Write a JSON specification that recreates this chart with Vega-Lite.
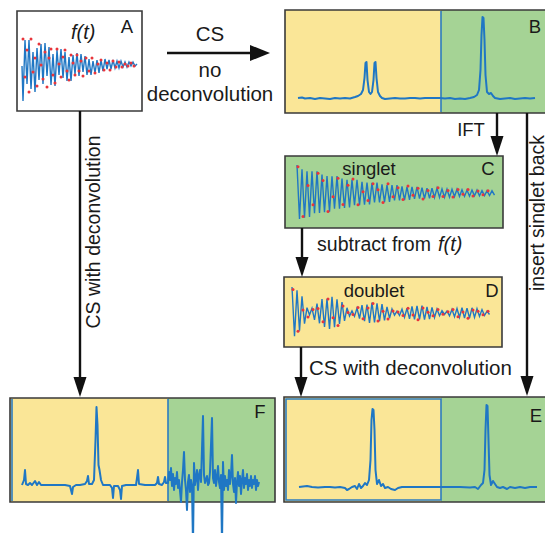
{
"$schema": "https://vega.github.io/schema/vega-lite/v6.json",
"width": 545, "height": 533, "padding": 0, "autosize": {"type": "none"},
"background": "white",
"config": {"view": {"stroke": null}, "text": {"font": "Liberation Sans", "color": "#1a1a1a"}},
"datasets": {
"boxes": [
{"panel":"A","tone":"white","x":17,"x2":142,"y":11,"y2":111},
{"panel":"B","tone":"yellow","x":285,"x2":441,"y":10,"y2":113},
{"panel":"B","tone":"green","x":441,"x2":560,"y":10,"y2":113},
{"panel":"C","tone":"green","x":285,"x2":503,"y":156,"y2":228},
{"panel":"D","tone":"yellow","x":284,"x2":502,"y":277,"y2":347},
{"panel":"E","tone":"yellow","x":284,"x2":441,"y":397,"y2":502},
{"panel":"E","tone":"green","x":441,"x2":560,"y":397,"y2":502},
{"panel":"F","tone":"yellow","x":10,"x2":168,"y":398,"y2":502},
{"panel":"F","tone":"green","x":168,"x2":275,"y":398,"y2":502}
],
"frames": [
{"panel":"A","edge":"dark","x":17,"x2":142,"y":11,"y2":111},
{"panel":"B","edge":"dark","x":285,"x2":560,"y":10,"y2":113},
{"panel":"C","edge":"dark","x":285,"x2":503,"y":156,"y2":228},
{"panel":"D","edge":"dark","x":284,"x2":502,"y":277,"y2":347},
{"panel":"E","edge":"dark","x":284,"x2":560,"y":397,"y2":502},
{"panel":"F","edge":"dark","x":10,"x2":275,"y":398,"y2":502},
{"panel":"E","edge":"blue","x":286,"x2":441,"y":399,"y2":500},
{"panel":"B","edge":"blue","x":441,"x2":441,"y":11,"y2":112},
{"panel":"F","edge":"blue","x":168,"x2":168,"y":399,"y2":501},
{"panel":"F","edge":"blue","x":12,"x2":12,"y":399,"y2":501}
],
"fid": [
{"s":"A","x":22,"y":66},{"s":"A","x":23,"y":101},{"s":"A","x":25,"y":40},{"s":"A","x":27,"y":84},{"s":"A","x":29,"y":40},{"s":"A","x":31,"y":89},{"s":"A","x":33,"y":52},{"s":"A","x":35,"y":92},{"s":"A","x":37,"y":48},{"s":"A","x":39,"y":80},{"s":"A","x":41,"y":44},{"s":"A","x":43,"y":84},{"s":"A","x":45,"y":43},{"s":"A","x":47,"y":76},{"s":"A","x":49,"y":47},{"s":"A","x":51,"y":85},{"s":"A","x":53,"y":54},{"s":"A","x":55,"y":86},{"s":"A","x":57,"y":50},{"s":"A","x":59,"y":75},{"s":"A","x":61,"y":49},{"s":"A","x":63,"y":78},{"s":"A","x":65,"y":52},{"s":"A","x":67,"y":81},{"s":"A","x":69,"y":57},{"s":"A","x":71,"y":81},{"s":"A","x":73,"y":55},{"s":"A","x":75,"y":74},{"s":"A","x":77,"y":53},{"s":"A","x":79,"y":76},{"s":"A","x":81,"y":54},{"s":"A","x":83,"y":72},{"s":"A","x":85,"y":56},{"s":"A","x":87,"y":75},{"s":"A","x":89,"y":59},{"s":"A","x":91,"y":75},{"s":"A","x":93,"y":61},{"s":"A","x":95,"y":73},{"s":"A","x":97,"y":60},{"s":"A","x":99,"y":73},{"s":"A","x":101,"y":60},{"s":"A","x":103,"y":71},{"s":"A","x":105,"y":59},{"s":"A","x":107,"y":69},{"s":"A","x":109,"y":60},{"s":"A","x":111,"y":69},{"s":"A","x":113,"y":60},{"s":"A","x":115,"y":68},{"s":"A","x":117,"y":61},{"s":"A","x":119,"y":68},{"s":"A","x":121,"y":61},{"s":"A","x":123,"y":67},{"s":"A","x":125,"y":62},{"s":"A","x":127,"y":67},{"s":"A","x":129,"y":62},{"s":"A","x":131,"y":66},{"s":"A","x":133,"y":62},{"s":"A","x":135,"y":66},{"s":"A","x":137,"y":64},
{"s":"C","x":297,"y":165},{"s":"C","x":299.5,"y":219},{"s":"C","x":302,"y":169.3},{"s":"C","x":304.5,"y":217.7},{"s":"C","x":307,"y":171.3},{"s":"C","x":309.5,"y":216.9},{"s":"C","x":312,"y":171.4},{"s":"C","x":314.5,"y":213.3},{"s":"C","x":317,"y":171.2},{"s":"C","x":319.5,"y":213},{"s":"C","x":322,"y":174.6},{"s":"C","x":324.5,"y":212.3},{"s":"C","x":327,"y":176.1},{"s":"C","x":329.5,"y":211.7},{"s":"C","x":332,"y":176.2},{"s":"C","x":334.5,"y":208.8},{"s":"C","x":337,"y":176},{"s":"C","x":339.5,"y":208.7},{"s":"C","x":342,"y":178.6},{"s":"C","x":344.5,"y":208},{"s":"C","x":347,"y":179.8},{"s":"C","x":349.5,"y":207.5},{"s":"C","x":352,"y":179.9},{"s":"C","x":354.5,"y":205.3},{"s":"C","x":357,"y":179.8},{"s":"C","x":359.5,"y":205.2},{"s":"C","x":362,"y":181.8},{"s":"C","x":364.5,"y":204.7},{"s":"C","x":367,"y":182.7},{"s":"C","x":369.5,"y":204.3},{"s":"C","x":372,"y":182.8},{"s":"C","x":374.5,"y":202.5},{"s":"C","x":377,"y":182.7},{"s":"C","x":379.5,"y":202.5},{"s":"C","x":382,"y":184.3},{"s":"C","x":384.5,"y":202.1},{"s":"C","x":387,"y":185},{"s":"C","x":389.5,"y":201.8},{"s":"C","x":392,"y":185.1},{"s":"C","x":394.5,"y":200.5},{"s":"C","x":397,"y":185},{"s":"C","x":399.5,"y":200.4},{"s":"C","x":402,"y":186.3},{"s":"C","x":404.5,"y":200.1},{"s":"C","x":407,"y":186.8},{"s":"C","x":409.5,"y":199.8},{"s":"C","x":412,"y":186.9},{"s":"C","x":414.5,"y":198.8},{"s":"C","x":417,"y":186.8},{"s":"C","x":419.5,"y":198.7},{"s":"C","x":422,"y":187.7},{"s":"C","x":424.5,"y":198.5},{"s":"C","x":427,"y":188.2},{"s":"C","x":429.5,"y":198.3},{"s":"C","x":432,"y":188.2},{"s":"C","x":434.5,"y":197.5},{"s":"C","x":437,"y":188.1},{"s":"C","x":439.5,"y":197.5},{"s":"C","x":442,"y":188.9},{"s":"C","x":444.5,"y":197.3},{"s":"C","x":447,"y":189.2},{"s":"C","x":449.5,"y":197.2},{"s":"C","x":452,"y":189.3},{"s":"C","x":454.5,"y":196.5},{"s":"C","x":457,"y":189.2},{"s":"C","x":459.5,"y":196.5},{"s":"C","x":462,"y":189.8},{"s":"C","x":464.5,"y":196.4},{"s":"C","x":467,"y":190.1},{"s":"C","x":469.5,"y":196.2},{"s":"C","x":472,"y":190.1},{"s":"C","x":474.5,"y":195.7},{"s":"C","x":477,"y":190.1},{"s":"C","x":479.5,"y":195.8},{"s":"C","x":482,"y":190.5},{"s":"C","x":484.5,"y":195.6},{"s":"C","x":487,"y":190.7},{"s":"C","x":489.5,"y":195.5},{"s":"C","x":492,"y":190.8},{"s":"C","x":494.5,"y":195.2},
{"s":"D","x":292,"y":287},{"s":"D","x":294.5,"y":336.2},{"s":"D","x":297,"y":290.3},{"s":"D","x":299.5,"y":330.6},{"s":"D","x":302,"y":296.4},{"s":"D","x":304.5,"y":323.7},{"s":"D","x":307,"y":307.6},{"s":"D","x":309.5,"y":315},{"s":"D","x":312,"y":308.2},{"s":"D","x":314.5,"y":319.8},{"s":"D","x":317,"y":303.6},{"s":"D","x":319.5,"y":323.3},{"s":"D","x":322,"y":299.1},{"s":"D","x":324.5,"y":327},{"s":"D","x":327,"y":298.8},{"s":"D","x":329.5,"y":329},{"s":"D","x":332,"y":296.7},{"s":"D","x":334.5,"y":327.1},{"s":"D","x":337,"y":299.2},{"s":"D","x":339.5,"y":324},{"s":"D","x":342,"y":302.2},{"s":"D","x":344.5,"y":320.8},{"s":"D","x":347,"y":307.8},{"s":"D","x":349.5,"y":316.1},{"s":"D","x":352,"y":310.9},{"s":"D","x":354.5,"y":316.3},{"s":"D","x":357,"y":308.1},{"s":"D","x":359.5,"y":318.5},{"s":"D","x":362,"y":305.2},{"s":"D","x":364.5,"y":321.1},{"s":"D","x":367,"y":304.6},{"s":"D","x":369.5,"y":322.8},{"s":"D","x":372,"y":302.5},{"s":"D","x":374.5,"y":322.5},{"s":"D","x":377,"y":303.3},{"s":"D","x":379.5,"y":321.2},{"s":"D","x":382,"y":304},{"s":"D","x":384.5,"y":320.4},{"s":"D","x":387,"y":307},{"s":"D","x":389.5,"y":318.2},{"s":"D","x":392,"y":309},{"s":"D","x":394.5,"y":315.2},{"s":"D","x":397,"y":311.2},{"s":"D","x":399.5,"y":315.5},{"s":"D","x":402,"y":309.2},{"s":"D","x":404.5,"y":317.3},{"s":"D","x":407,"y":308.2},{"s":"D","x":409.5,"y":318.9},{"s":"D","x":412,"y":306.3},{"s":"D","x":414.5,"y":319.4},{"s":"D","x":417,"y":306},{"s":"D","x":419.5,"y":319.4},{"s":"D","x":422,"y":305.6},{"s":"D","x":424.5,"y":319.6},{"s":"D","x":427,"y":306.9},{"s":"D","x":429.5,"y":319.2},{"s":"D","x":432,"y":307.3},{"s":"D","x":434.5,"y":317.5},{"s":"D","x":437,"y":309},{"s":"D","x":439.5,"y":315.8},{"s":"D","x":442,"y":310.7},{"s":"D","x":444.5,"y":314.5},{"s":"D","x":447,"y":311},{"s":"D","x":449.5,"y":315.9},{"s":"D","x":452,"y":309.4},{"s":"D","x":454.5,"y":316.8},{"s":"D","x":457,"y":308.5},{"s":"D","x":459.5,"y":317.3},{"s":"D","x":462,"y":307.7},{"s":"D","x":464.5,"y":318.1},{"s":"D","x":467,"y":308.2},{"s":"D","x":469.5,"y":318.2},{"s":"D","x":472,"y":307.8},{"s":"D","x":474.5,"y":317.4},{"s":"D","x":477,"y":308.7},{"s":"D","x":479.5,"y":316.4},{"s":"D","x":482,"y":309.6},{"s":"D","x":484.5,"y":315.5},{"s":"D","x":487,"y":311.2},{"s":"D","x":489.5,"y":314.5}
],
"dots": [
{"s":"A","x":23,"y":39},{"s":"A","x":25,"y":77},{"s":"A","x":27,"y":50},{"s":"A","x":29,"y":92},{"s":"A","x":31,"y":39},{"s":"A","x":33,"y":72},{"s":"A","x":35,"y":58},{"s":"A","x":37,"y":86},{"s":"A","x":39,"y":44},{"s":"A","x":41,"y":65},{"s":"A","x":43,"y":79},{"s":"A","x":45,"y":52},{"s":"A","x":47,"y":87},{"s":"A","x":49,"y":58},{"s":"A","x":51,"y":49},{"s":"A","x":53,"y":75},{"s":"A","x":55,"y":83},{"s":"A","x":57,"y":49},{"s":"A","x":59,"y":64},{"s":"A","x":61,"y":77},{"s":"A","x":63,"y":57},{"s":"A","x":65,"y":50},{"s":"A","x":67,"y":71},{"s":"A","x":69,"y":80},{"s":"A","x":71,"y":55},{"s":"A","x":73,"y":63},{"s":"A","x":75,"y":75},{"s":"A","x":77,"y":55},{"s":"A","x":79,"y":71},{"s":"A","x":81,"y":61},{"s":"A","x":83,"y":76},{"s":"A","x":86,"y":58},{"s":"A","x":89,"y":71},{"s":"A","x":92,"y":58},{"s":"A","x":95,"y":73},{"s":"A","x":98,"y":64},{"s":"A","x":101,"y":60},{"s":"A","x":104,"y":70},{"s":"A","x":107,"y":63},{"s":"A","x":110,"y":70},{"s":"A","x":113,"y":61},{"s":"A","x":116,"y":67},{"s":"A","x":119,"y":62},{"s":"A","x":122,"y":67},{"s":"A","x":125,"y":64},{"s":"A","x":128,"y":66},{"s":"A","x":131,"y":63},{"s":"A","x":134,"y":66},
{"s":"C","x":298,"y":166.8},{"s":"C","x":303,"y":216.4},{"s":"C","x":308,"y":185.6},{"s":"C","x":313,"y":204.7},{"s":"C","x":318,"y":173.3},{"s":"C","x":323,"y":180.6},{"s":"C","x":328,"y":211.6},{"s":"C","x":333,"y":196.7},{"s":"C","x":338,"y":178.2},{"s":"C","x":343,"y":204.5},{"s":"C","x":348,"y":185.3},{"s":"C","x":353,"y":179},{"s":"C","x":358,"y":204.8},{"s":"C","x":363,"y":191.7},{"s":"C","x":368,"y":200.4},{"s":"C","x":373,"y":183.7},{"s":"C","x":378,"y":189.7},{"s":"C","x":383,"y":202.4},{"s":"C","x":388,"y":183.7},{"s":"C","x":393,"y":196.7},{"s":"C","x":398,"y":187.8},{"s":"C","x":403,"y":199.6},{"s":"C","x":408,"y":186},{"s":"C","x":413,"y":195.2},{"s":"C","x":418,"y":188.2},{"s":"C","x":423,"y":198.9},{"s":"C","x":428,"y":190.5},{"s":"C","x":433,"y":196.5},{"s":"C","x":438,"y":187.8},{"s":"C","x":443,"y":196.6},{"s":"C","x":448,"y":190.6},{"s":"C","x":453,"y":196.9},{"s":"C","x":458,"y":189.5},{"s":"C","x":463,"y":194.2},{"s":"C","x":468,"y":189.5},{"s":"C","x":473,"y":196},{"s":"C","x":478,"y":190.9},{"s":"C","x":483,"y":194.7},{"s":"C","x":488,"y":190.8},
{"s":"D","x":293,"y":289.6},{"s":"D","x":298,"y":331.2},{"s":"D","x":303,"y":310.1},{"s":"D","x":308,"y":317.1},{"s":"D","x":313,"y":309.5},{"s":"D","x":318,"y":308.6},{"s":"D","x":323,"y":321.7},{"s":"D","x":328,"y":299.1},{"s":"D","x":333,"y":317.8},{"s":"D","x":338,"y":325.6},{"s":"D","x":343,"y":306},{"s":"D","x":348,"y":312.5},{"s":"D","x":353,"y":314.4},{"s":"D","x":358,"y":307.6},{"s":"D","x":363,"y":318.7},{"s":"D","x":368,"y":308.1},{"s":"D","x":373,"y":303.6},{"s":"D","x":378,"y":321},{"s":"D","x":383,"y":311.3},{"s":"D","x":388,"y":319},{"s":"D","x":393,"y":311},{"s":"D","x":398,"y":312},{"s":"D","x":403,"y":315.5},{"s":"D","x":408,"y":308.2},{"s":"D","x":413,"y":315},{"s":"D","x":418,"y":319.7},{"s":"D","x":423,"y":307.9},{"s":"D","x":428,"y":312.3},{"s":"D","x":433,"y":315.7},{"s":"D","x":438,"y":309.4},{"s":"D","x":443,"y":314.3},{"s":"D","x":448,"y":311.7},{"s":"D","x":453,"y":309.5},{"s":"D","x":458,"y":316.8},{"s":"D","x":463,"y":311.9},{"s":"D","x":468,"y":318.2},{"s":"D","x":473,"y":310},{"s":"D","x":478,"y":311.3},{"s":"D","x":483,"y":314.8},{"s":"D","x":488,"y":311.3}
],
"spec": [
{"s":"B","x":298,"y":98},{"s":"B","x":302,"y":97.5},{"s":"B","x":305,"y":98.5},{"s":"B","x":310,"y":98},{"s":"B","x":315,"y":99},{"s":"B","x":320,"y":98},{"s":"B","x":325,"y":98.5},{"s":"B","x":330,"y":99},{"s":"B","x":335,"y":98},{"s":"B","x":340,"y":98.5},{"s":"B","x":345,"y":98},{"s":"B","x":350,"y":98.5},{"s":"B","x":355,"y":97},{"s":"B","x":358,"y":96},{"s":"B","x":361,"y":94},{"s":"B","x":363,"y":90},{"s":"B","x":364.5,"y":78},{"s":"B","x":365.5,"y":63},{"s":"B","x":366.5,"y":62},{"s":"B","x":367.5,"y":80},{"s":"B","x":369,"y":92},{"s":"B","x":370.5,"y":94},{"s":"B","x":372,"y":92},{"s":"B","x":373.5,"y":80},{"s":"B","x":374.5,"y":63},{"s":"B","x":375.5,"y":62},{"s":"B","x":376.5,"y":78},{"s":"B","x":378,"y":92},{"s":"B","x":380,"y":96},{"s":"B","x":382,"y":98},{"s":"B","x":385,"y":99},{"s":"B","x":390,"y":98.5},{"s":"B","x":395,"y":98},{"s":"B","x":400,"y":98.5},{"s":"B","x":405,"y":98.5},{"s":"B","x":410,"y":98},{"s":"B","x":415,"y":98},{"s":"B","x":420,"y":98.5},{"s":"B","x":425,"y":98},{"s":"B","x":430,"y":98},{"s":"B","x":435,"y":98},{"s":"B","x":440,"y":98},{"s":"B","x":445,"y":98.5},{"s":"B","x":450,"y":98},{"s":"B","x":455,"y":99},{"s":"B","x":460,"y":98.5},{"s":"B","x":465,"y":99},{"s":"B","x":470,"y":98},{"s":"B","x":474,"y":97},{"s":"B","x":477,"y":95},{"s":"B","x":479,"y":90},{"s":"B","x":480.5,"y":70},{"s":"B","x":481.5,"y":35},{"s":"B","x":482.5,"y":17},{"s":"B","x":483.5,"y":18},{"s":"B","x":484.5,"y":40},{"s":"B","x":485.5,"y":75},{"s":"B","x":487,"y":92},{"s":"B","x":489,"y":94},{"s":"B","x":491,"y":93},{"s":"B","x":493,"y":96},{"s":"B","x":495,"y":98},{"s":"B","x":500,"y":99},{"s":"B","x":505,"y":98.5},{"s":"B","x":510,"y":98},{"s":"B","x":515,"y":99},{"s":"B","x":520,"y":98.5},{"s":"B","x":525,"y":98},{"s":"B","x":530,"y":98.5},{"s":"B","x":535,"y":98},
{"s":"E","x":299,"y":487},{"s":"E","x":303,"y":486.5},{"s":"E","x":307,"y":486},{"s":"E","x":312,"y":487},{"s":"E","x":318,"y":487.5},{"s":"E","x":325,"y":487},{"s":"E","x":330,"y":487},{"s":"E","x":335,"y":487.5},{"s":"E","x":340,"y":487},{"s":"E","x":345,"y":488},{"s":"E","x":347,"y":490},{"s":"E","x":349,"y":489},{"s":"E","x":352,"y":487},{"s":"E","x":355,"y":486},{"s":"E","x":357,"y":489},{"s":"E","x":359,"y":484},{"s":"E","x":361,"y":488},{"s":"E","x":363,"y":486},{"s":"E","x":365,"y":483},{"s":"E","x":367,"y":485},{"s":"E","x":369,"y":480},{"s":"E","x":370.5,"y":460},{"s":"E","x":371.5,"y":420},{"s":"E","x":372.5,"y":409},{"s":"E","x":373.5,"y":410},{"s":"E","x":374.5,"y":430},{"s":"E","x":375.5,"y":470},{"s":"E","x":377,"y":484},{"s":"E","x":379,"y":480},{"s":"E","x":381,"y":486},{"s":"E","x":383,"y":484},{"s":"E","x":385,"y":488},{"s":"E","x":388,"y":487},{"s":"E","x":391,"y":489},{"s":"E","x":395,"y":490},{"s":"E","x":398,"y":488},{"s":"E","x":402,"y":487},{"s":"E","x":410,"y":487},{"s":"E","x":420,"y":487},{"s":"E","x":430,"y":487},{"s":"E","x":440,"y":487},{"s":"E","x":450,"y":487},{"s":"E","x":460,"y":487},{"s":"E","x":470,"y":487.5},{"s":"E","x":475,"y":487},{"s":"E","x":478,"y":489},{"s":"E","x":481,"y":485},{"s":"E","x":483,"y":483},{"s":"E","x":484.5,"y":470},{"s":"E","x":485.5,"y":430},{"s":"E","x":486.5,"y":405},{"s":"E","x":487.5,"y":406},{"s":"E","x":488.5,"y":440},{"s":"E","x":489.5,"y":475},{"s":"E","x":491,"y":485},{"s":"E","x":493,"y":481},{"s":"E","x":495,"y":484},{"s":"E","x":497,"y":487},{"s":"E","x":500,"y":488},{"s":"E","x":503,"y":487},{"s":"E","x":507,"y":489},{"s":"E","x":510,"y":487},{"s":"E","x":515,"y":488},{"s":"E","x":520,"y":487},{"s":"E","x":525,"y":488},{"s":"E","x":530,"y":487},{"s":"E","x":537,"y":487},
{"s":"F","x":22,"y":485},{"s":"F","x":24,"y":480},{"s":"F","x":25,"y":470},{"s":"F","x":26,"y":484},{"s":"F","x":28,"y":485},{"s":"F","x":30,"y":483},{"s":"F","x":32,"y":485},{"s":"F","x":35,"y":481},{"s":"F","x":37,"y":485},{"s":"F","x":39,"y":482},{"s":"F","x":41,"y":485},{"s":"F","x":45,"y":485},{"s":"F","x":50,"y":485},{"s":"F","x":55,"y":485},{"s":"F","x":60,"y":485},{"s":"F","x":65,"y":485},{"s":"F","x":70,"y":486},{"s":"F","x":71,"y":490},{"s":"F","x":72,"y":494},{"s":"F","x":73,"y":487},{"s":"F","x":76,"y":485},{"s":"F","x":80,"y":485},{"s":"F","x":85,"y":484},{"s":"F","x":87,"y":481},{"s":"F","x":88,"y":476},{"s":"F","x":89,"y":484},{"s":"F","x":92,"y":484},{"s":"F","x":94,"y":480},{"s":"F","x":95.5,"y":440},{"s":"F","x":96.5,"y":407},{"s":"F","x":97.5,"y":425},{"s":"F","x":98.5,"y":465},{"s":"F","x":99.5,"y":470},{"s":"F","x":101,"y":480},{"s":"F","x":103,"y":485},{"s":"F","x":106,"y":485},{"s":"F","x":110,"y":485},{"s":"F","x":112,"y":488},{"s":"F","x":113,"y":498},{"s":"F","x":114,"y":486},{"s":"F","x":118,"y":486},{"s":"F","x":120,"y":490},{"s":"F","x":121,"y":499},{"s":"F","x":122,"y":486},{"s":"F","x":126,"y":485},{"s":"F","x":132,"y":485},{"s":"F","x":136,"y":485},{"s":"F","x":137,"y":478},{"s":"F","x":138,"y":470},{"s":"F","x":139,"y":484},{"s":"F","x":145,"y":485},{"s":"F","x":150,"y":485},{"s":"F","x":155,"y":485},{"s":"F","x":157,"y":483},{"s":"F","x":158,"y":477},{"s":"F","x":159,"y":484},{"s":"F","x":162,"y":485},{"s":"F","x":164,"y":482},{"s":"F","x":165,"y":477},{"s":"F","x":166,"y":483},
{"s":"F","x":168,"y":483},{"s":"F","x":169,"y":472},{"s":"F","x":170,"y":480},{"s":"F","x":171,"y":468},{"s":"F","x":172,"y":486},{"s":"F","x":173,"y":474},{"s":"F","x":174,"y":490},{"s":"F","x":175,"y":478},{"s":"F","x":176,"y":484},{"s":"F","x":177,"y":472},{"s":"F","x":178,"y":488},{"s":"F","x":179,"y":480},{"s":"F","x":181,"y":502},{"s":"F","x":182,"y":482},{"s":"F","x":183,"y":470},{"s":"F","x":184,"y":452},{"s":"F","x":185,"y":480},{"s":"F","x":186,"y":490},{"s":"F","x":187,"y":510},{"s":"F","x":188,"y":482},{"s":"F","x":189,"y":475},{"s":"F","x":190,"y":492},{"s":"F","x":191,"y":480},{"s":"F","x":192,"y":486},{"s":"F","x":193,"y":545},{"s":"F","x":194,"y":463},{"s":"F","x":195,"y":485},{"s":"F","x":196,"y":478},{"s":"F","x":197,"y":470},{"s":"F","x":198,"y":490},{"s":"F","x":199,"y":475},{"s":"F","x":200,"y":470},{"s":"F","x":201,"y":482},{"s":"F","x":203,"y":416},{"s":"F","x":204,"y":475},{"s":"F","x":205,"y":483},{"s":"F","x":207,"y":476},{"s":"F","x":208,"y":485},{"s":"F","x":209,"y":483},{"s":"F","x":210,"y":472},{"s":"F","x":212,"y":418},{"s":"F","x":213,"y":478},{"s":"F","x":214,"y":483},{"s":"F","x":215,"y":470},{"s":"F","x":216,"y":486},{"s":"F","x":217,"y":478},{"s":"F","x":218,"y":466},{"s":"F","x":219,"y":482},{"s":"F","x":220,"y":488},{"s":"F","x":221,"y":475},{"s":"F","x":222,"y":545},{"s":"F","x":223,"y":462},{"s":"F","x":224,"y":490},{"s":"F","x":225,"y":476},{"s":"F","x":226,"y":486},{"s":"F","x":227,"y":480},{"s":"F","x":228,"y":490},{"s":"F","x":229,"y":470},{"s":"F","x":230,"y":484},{"s":"F","x":231,"y":475},{"s":"F","x":232,"y":455},{"s":"F","x":233,"y":484},{"s":"F","x":234,"y":492},{"s":"F","x":235,"y":478},{"s":"F","x":236,"y":503},{"s":"F","x":237,"y":482},{"s":"F","x":238,"y":472},{"s":"F","x":239,"y":486},{"s":"F","x":240,"y":476},{"s":"F","x":241,"y":494},{"s":"F","x":242,"y":480},{"s":"F","x":243,"y":470},{"s":"F","x":244,"y":488},{"s":"F","x":245,"y":478},{"s":"F","x":246,"y":484},{"s":"F","x":247,"y":474},{"s":"F","x":248,"y":490},{"s":"F","x":249,"y":480},{"s":"F","x":250,"y":486},{"s":"F","x":251,"y":476},{"s":"F","x":252,"y":488},{"s":"F","x":253,"y":480},{"s":"F","x":254,"y":484},{"s":"F","x":255,"y":476},{"s":"F","x":256,"y":490},{"s":"F","x":257,"y":480},{"s":"F","x":258,"y":486},{"s":"F","x":259,"y":482}
],
"arrows": [
{"arrow":"A-B","x":167,"y":53,"x2":262,"y2":53},
{"arrow":"B-C","x":497,"y":113,"x2":497,"y2":147},
{"arrow":"C-D","x":302,"y":228,"x2":302,"y2":268},
{"arrow":"D-E","x":301,"y":347,"x2":301,"y2":388},
{"arrow":"B-E","x":527,"y":113,"x2":527,"y2":386},
{"arrow":"A-F","x":80,"y":111,"x2":80,"y2":388}
],
"heads": [
{"arrow":"A-B","dir":"right","x":260,"y":53},
{"arrow":"B-C","dir":"down","x":497,"y":146},
{"arrow":"C-D","dir":"down","x":302,"y":267},
{"arrow":"D-E","dir":"down","x":301,"y":387},
{"arrow":"B-E","dir":"down","x":527,"y":386},
{"arrow":"A-F","dir":"down","x":80,"y":387}
],
"bigCenter": [
{"t":"CS","x":210,"y":41},
{"t":"no","x":210,"y":77},
{"t":"deconvolution","x":210,"y":101}
],
"bigLeft": [
{"t":"CS with deconvolution","x":309,"y":375}
],
"mid": [
{"t":"subtract from","x":374,"y":251}
],
"small": [
{"t":"A","x":127,"y":33},
{"t":"B","x":535,"y":33},
{"t":"C","x":488,"y":175},
{"t":"D","x":492,"y":297},
{"t":"E","x":536,"y":422},
{"t":"F","x":260,"y":418},
{"t":"singlet","x":369,"y":175},
{"t":"doublet","x":374,"y":297},
{"t":"IFT","x":471,"y":136}
],
"italic": [
{"t":"f(t)","x":71,"y":39},
{"t":"f(t)","x":438,"y":251}
],
"vertical": [
{"t":"CS with deconvolution","x":100,"y":232},
{"t":"insert singlet back","x":544,"y":213}
]
},
"encoding": {
"x": {"field":"x","type":"quantitative","scale":{"domain":[0,545],"nice":false,"zero":false},"axis":null},
"y": {"field":"y","type":"quantitative","scale":{"domain":[0,533],"nice":false,"zero":false,"reverse":true},"axis":null}
},
"layer": [
{"data":{"name":"boxes"},"mark":{"type":"rect","strokeWidth":0},
 "encoding":{"x2":{"field":"x2"},"y2":{"field":"y2"},
  "color":{"field":"tone","type":"nominal","scale":{"domain":["white","yellow","green"],"range":["#ffffff","#fae697","#a5d395"]},"legend":null}}},
{"data":{"name":"frames"},"mark":{"type":"rect","fillOpacity":0,"strokeWidth":1.6},
 "encoding":{"x2":{"field":"x2"},"y2":{"field":"y2"},
  "stroke":{"field":"edge","type":"nominal","scale":{"domain":["dark","blue"],"range":["#3a3a3a","#2c7cc0"]},"legend":null}}},
{"data":{"name":"spec"},"mark":{"type":"line","color":"#1f77c4","strokeWidth":2,"strokeJoin":"round"},
 "encoding":{"detail":{"field":"s"}}},
{"data":{"name":"fid"},"mark":{"type":"line","color":"#1f77c4","strokeWidth":1.4},
 "encoding":{"detail":{"field":"s"}}},
{"data":{"name":"dots"},"mark":{"type":"circle","color":"#e8353b","size":9,"opacity":1}},
{"data":{"name":"arrows"},"mark":{"type":"rule","color":"#111111","strokeWidth":2.4},
 "encoding":{"x2":{"field":"x2"},"y2":{"field":"y2"}}},
{"data":{"name":"heads"},"mark":{"type":"point","filled":true,"color":"#111111","size":400,"opacity":1,"strokeWidth":0},
 "encoding":{"shape":{"field":"dir","type":"nominal","scale":{"domain":["right","down"],"range":["M1,0L-1,-0.8L-1,0.8Z","M0,1L-0.65,-1L0.65,-1Z"]},"legend":null}}},
{"data":{"name":"bigCenter"},"mark":{"type":"text","align":"center","baseline":"alphabetic","fontSize":20.5},
 "encoding":{"text":{"field":"t"}}},
{"data":{"name":"bigLeft"},"mark":{"type":"text","align":"left","baseline":"alphabetic","fontSize":20.5},
 "encoding":{"text":{"field":"t"}}},
{"data":{"name":"mid"},"mark":{"type":"text","align":"center","baseline":"alphabetic","fontSize":19.5},
 "encoding":{"text":{"field":"t"}}},
{"data":{"name":"small"},"mark":{"type":"text","align":"center","baseline":"alphabetic","fontSize":18.5},
 "encoding":{"text":{"field":"t"}}},
{"data":{"name":"italic"},"mark":{"type":"text","align":"left","baseline":"alphabetic","fontSize":20,"fontStyle":"italic"},
 "encoding":{"text":{"field":"t"}}},
{"data":{"name":"vertical"},"mark":{"type":"text","align":"center","baseline":"alphabetic","fontSize":19.5,"angle":270},
 "encoding":{"text":{"field":"t"}}}
]
}
